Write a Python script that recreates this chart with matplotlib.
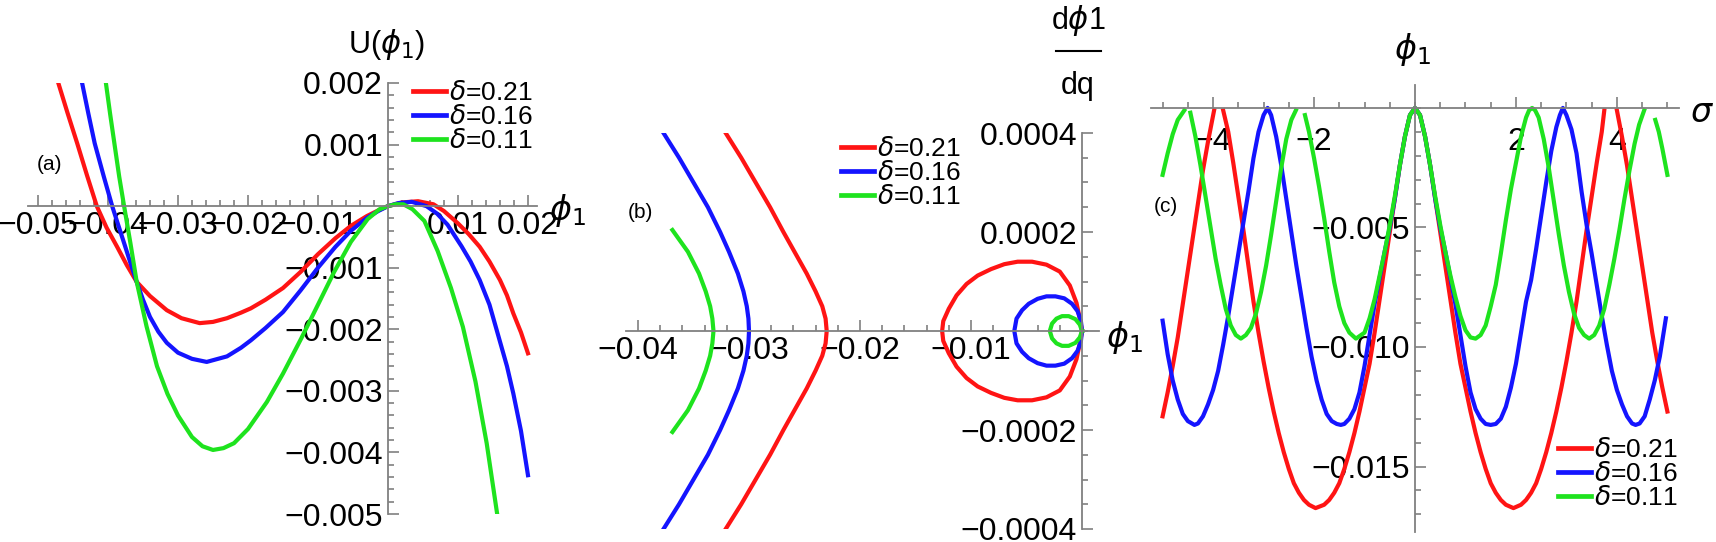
import numpy as np
import matplotlib
matplotlib.use('Agg')
import matplotlib.pyplot as plt
from matplotlib.lines import Line2D

plt.rcParams['font.family'] = ['Liberation Sans Narrow', 'Liberation Sans', 'DejaVu Sans']

gap = np.nan
DELTAS = ['0.21', '0.16', '0.11']
COLORS = ['#ff1414', '#1414ff', '#1ee31e']

# ---- panel (a): U(phi1) ----
a_red_x = [-0.0471, -0.0458, -0.0444, -0.0430, -0.0416, -0.0402, -0.0387, -0.0373,
           -0.0359, -0.0340, -0.0316, -0.0295, -0.0269, -0.0250, -0.0230, -0.0210,
           -0.0196, -0.0175, -0.0150, -0.0125, -0.0100, -0.0075, -0.0053, -0.0030,
           -0.0014, 0.0, 0.0020, 0.0043, 0.0065, 0.0080, 0.0100, 0.0115, 0.0131,
           0.0145, 0.0160, 0.0170, 0.0179, 0.0190, 0.0200]
a_red_y = [0.0020, 0.00152, 0.00102, 0.00050, 0.0, -0.00035, -0.00066, -0.00096,
           -0.00123, -0.00146, -0.00169, -0.00182, -0.00190, -0.00188, -0.00182, -0.00173,
           -0.00166, -0.00152, -0.00133, -0.00107, -0.00078, -0.00052, -0.00032, -0.00016,
           -0.00007, 0.0, 0.00006, 0.00008, 0.00003, -0.00008, -0.00028, -0.00045, -0.00066,
           -0.00090, -0.00120, -0.00145, -0.00174, -0.00205, -0.00239]
a_blue_x = [-0.0437, -0.0428, -0.0419, -0.0406, -0.0394, -0.0385, -0.0377, -0.0368,
            -0.0359, -0.0350, -0.0340, -0.0328, -0.0316, -0.0300, -0.0280, -0.0259,
            -0.0230, -0.0210, -0.0196, -0.0175, -0.0150, -0.0125, -0.0100, -0.0075,
            -0.0053, -0.0030, -0.0014, 0.0, 0.0015, 0.0034, 0.0055, 0.0070, 0.0085,
            0.0105, 0.0118, 0.0131, 0.0145, 0.0160, 0.0170, 0.0179, 0.0190, 0.0200]
a_blue_y = [0.0020, 0.00150, 0.00102, 0.00048, 0.0, -0.00032, -0.00060, -0.00092,
            -0.00123, -0.00152, -0.00180, -0.00204, -0.00222, -0.00238, -0.00248, -0.00253,
            -0.00244, -0.00230, -0.00218, -0.00198, -0.00172, -0.00137, -0.00100, -0.00066,
            -0.00040, -0.00019, -0.00008, 0.0, 0.00005, 0.00007, 0.0, -0.00012, -0.00030,
            -0.00065, -0.00090, -0.00120, -0.00160, -0.00220, -0.00260, -0.00304, -0.00365,
            -0.00437]
a_green_x = [-0.0403, -0.0397, -0.0390, -0.0384, -0.0377, -0.0368, -0.0359, -0.0345,
             -0.0330, -0.0315, -0.0300, -0.0280, -0.0265, -0.0250, -0.0235, -0.0220,
             -0.0200, -0.0173, -0.0150, -0.0124, -0.0100, -0.0077, -0.0053, -0.0029,
             -0.0012, 0.0, 0.0011, 0.0022, 0.0035, 0.0052, 0.0071, 0.0090, 0.0107,
             0.0125, 0.0141, 0.0156]
a_green_y = [0.0020, 0.00150, 0.00095, 0.00048, 0.0, -0.00060, -0.00123, -0.00195,
             -0.00260, -0.00305, -0.00340, -0.00375, -0.00390, -0.00396, -0.00393, -0.00385,
             -0.00362, -0.00318, -0.00272, -0.00215, -0.00160, -0.00107, -0.00058, -0.00021,
             -0.00005, 0.0, 0.00003, 0.00003, -0.00005, -0.00024, -0.00073, -0.00133,
             -0.00196, -0.00285, -0.00385, -0.00500]

# ---- panel (b): phase portrait, upper halves (the lower half is dphi1/dq < 0) ----
b_red_open_x = [-0.0321, -0.0307, -0.0294, -0.0281, -0.0269, -0.0259, -0.0248, -0.0240,
                -0.0234, -0.0231, -0.0230]
b_red_open_y = [0.00040, 0.00035, 0.00030, 0.00025, 0.00020, 0.00016, 0.000116, 0.00008,
                0.00005, 0.000025, 0.0]
b_blue_open_x = [-0.0377, -0.0363, -0.0350, -0.0337, -0.0326, -0.0318, -0.0310, -0.0305,
                 -0.0302, -0.03005, -0.0300]
b_blue_open_y = [0.00040, 0.00035, 0.00030, 0.00025, 0.00020, 0.00016, 0.000116, 0.00008,
                 0.00005, 0.000025, 0.0]
b_green_open_x = [-0.0369, -0.0355, -0.0345, -0.0339, -0.0335, -0.0333, -0.0332]
b_green_open_y = [0.000204, 0.00016, 0.000116, 0.00008, 0.00005, 0.000025, 0.0]

b_red_loop_x = [0.0, -0.00015, -0.0005, -0.0011, -0.0020, -0.0032, -0.0045, -0.0058,
                -0.0070, -0.0082, -0.0094, -0.0104, -0.0113, -0.0120, -0.0125, -0.0126]
b_red_loop_y = [0.0, 0.00002, 0.000057, 0.000092, 0.00012, 0.000134, 0.00014, 0.00014,
                0.000135, 0.000125, 0.000112, 0.000095, 0.000072, 0.000045, 0.00002, 0.0]
b_blue_loop_x = [0.0, -0.0001, -0.0004, -0.0009, -0.0016, -0.0024, -0.0032, -0.0040,
                 -0.0048, -0.0054, -0.0059, -0.0061]
b_blue_loop_y = [0.0, 0.00002, 0.00004, 0.000055, 0.000066, 0.00007, 0.00007, 0.000065,
                 0.000055, 0.000042, 0.000025, 0.0]
b_green_loop_x = [0.0, -0.0002, -0.0006, -0.0012, -0.0018, -0.0023, -0.0027, -0.0029]
b_green_loop_y = [0.0, 0.000013, 0.000024, 0.00003, 0.00003, 0.000025, 0.000015, 0.0]

# ---- panel (c): phi1(sigma) ----
c_red_x = [-5.0, -4.9, -4.8, -4.7, -4.6, -4.5, -4.4, -4.3, -4.2, -4.1, -3.98, gap,
           -3.80, -3.7, -3.6, -3.5, -3.4, -3.3, -3.2, -3.1, -3.0, -2.9, -2.8, -2.7, -2.6,
           -2.5, -2.4, -2.3, -2.2, -2.1, -1.97, -1.8, -1.7, -1.6, -1.5, -1.4, -1.3, -1.2,
           -1.1, -1.0, -0.9, -0.8, -0.7, -0.6, -0.5, -0.4, -0.3, -0.2, -0.1, 0.0,
           0.1, 0.2, 0.3, 0.4, 0.5, 0.6, 0.7, 0.8, 0.9, 1.0, 1.1, 1.2, 1.3, 1.4, 1.5,
           1.6, 1.7, 1.8, 1.95, 2.1, 2.2, 2.3, 2.4, 2.5, 2.6, 2.7, 2.8, 2.9, 3.0, 3.1,
           3.2, 3.3, 3.4, 3.5, 3.6, 3.7, 3.75, gap, 4.0, 4.1, 4.2, 4.3, 4.4, 4.5, 4.6,
           4.7, 4.8, 4.9, 5.0]
c_red_y = [-0.0129, -0.0119, -0.0108, -0.0096, -0.0082, -0.0068, -0.0054, -0.0040,
           -0.0026, -0.0014, -0.0001, gap,
           -0.0001, -0.0010, -0.0023, -0.0037, -0.0051, -0.0066, -0.0081, -0.0094, -0.0106,
           -0.0117, -0.0127, -0.0136, -0.0144, -0.0151, -0.0157, -0.0161, -0.0164, -0.0166,
           -0.01674, -0.0166, -0.0164, -0.0161, -0.0157, -0.0151, -0.0144, -0.0136, -0.0127,
           -0.0117, -0.0107, -0.0094, -0.0080, -0.0066, -0.0052, -0.0038, -0.0024, -0.0012,
           -0.0003, 0.0,
           -0.0003, -0.0012, -0.0024, -0.0038, -0.0052, -0.0066, -0.0080, -0.0094, -0.0107,
           -0.0117, -0.0127, -0.0136, -0.0144, -0.0151, -0.0157, -0.0161, -0.0164, -0.0166,
           -0.01674, -0.0166, -0.0164, -0.0161, -0.0157, -0.0151, -0.0144, -0.0136, -0.0127,
           -0.0117, -0.0106, -0.0094, -0.0081, -0.0066, -0.0051, -0.0037, -0.0023, -0.0010,
           -0.0001, gap, -0.0001, -0.0012, -0.0024, -0.0038, -0.0052, -0.0066, -0.0080,
           -0.0094, -0.0106, -0.0117, -0.0127]
c_blue_x = [-5.0, -4.9, -4.8, -4.7, -4.6, -4.5, -4.37, -4.3, -4.2, -4.1, -4.0, -3.9,
            -3.8, -3.7, -3.6, -3.5, -3.4, -3.3, -3.2, -3.1, -3.0, -2.92, -2.85, -2.75,
            -2.65, -2.55, -2.45, -2.35, -2.25, -2.15, -2.05, -1.95, -1.85, -1.75, -1.65,
            -1.55, -1.47, -1.4, -1.3, -1.2, -1.1, -1.0, -0.9, -0.8, -0.7, -0.6, -0.5,
            -0.4, -0.3, -0.2, -0.1, 0.0,
            0.1, 0.2, 0.3, 0.4, 0.5, 0.6, 0.7, 0.8, 0.9, 1.0, 1.1, 1.2, 1.3, 1.4, 1.5,
            1.6, 1.7, 1.8, 1.9, 2.0, 2.1, 2.2, 2.3, 2.4, 2.5, 2.6, 2.7, 2.8, 2.87, 2.93,
            3.0, 3.1, 3.2, 3.3, 3.4, 3.5, 3.6, 3.7, 3.8, 3.9, 4.0, 4.1, 4.2, 4.3, 4.37,
            4.45, 4.55, 4.65, 4.75, 4.85, 4.97]
c_blue_y = [-0.0089, -0.0103, -0.0114, -0.0122, -0.0128, -0.0131, -0.01326, -0.0132,
            -0.0129, -0.0124, -0.0118, -0.0110, -0.0099, -0.0087, -0.0074, -0.0061, -0.0048,
            -0.0035, -0.0021, -0.0010, -0.0003, 0.0, -0.0003, -0.0012, -0.0024, -0.0038,
            -0.0052, -0.0066, -0.0079, -0.0092, -0.0104, -0.0114, -0.0122, -0.0128, -0.0131,
            -0.01322, -0.01326, -0.01322, -0.0130, -0.0126, -0.0119, -0.0108, -0.0095,
            -0.0082, -0.0071, -0.0060, -0.0050, -0.0038, -0.0024, -0.0012, -0.0003, 0.0,
            -0.0003, -0.0012, -0.0024, -0.0038, -0.0050, -0.0060, -0.0071, -0.0082, -0.0095,
            -0.0108, -0.0119, -0.0126, -0.0130, -0.01322, -0.01326, -0.01322, -0.0130,
            -0.0125, -0.0117, -0.0107, -0.0094, -0.0081, -0.0072, -0.0059, -0.0045, -0.0031,
            -0.0018, -0.0008, -0.0003, 0.0,
            -0.0003, -0.0009, -0.0019, -0.0035, -0.0049, -0.0061, -0.0074, -0.0087, -0.0099,
            -0.0110, -0.0118, -0.0124, -0.0129, -0.0132, -0.01326, -0.0132, -0.0129, -0.0122,
            -0.0114, -0.0104, -0.0088]
c_green_x = [-5.0, -4.9, -4.8, -4.7, -4.57, gap, -4.45, -4.35, -4.25, -4.15, -4.05,
             -3.95, -3.85, -3.75, -3.65, -3.55, -3.45, -3.35, -3.25, -3.15, -3.05, -2.95,
             -2.85, -2.75, -2.65, -2.55, -2.45, -2.36, gap, -2.18, -2.1, -2.0, -1.9, -1.8,
             -1.7, -1.6, -1.5, -1.4, -1.3, -1.17, -1.0, -0.9, -0.8, -0.7, -0.6, -0.5, -0.4,
             -0.3, -0.2, -0.1, 0.0,
             0.1, 0.2, 0.3, 0.4, 0.5, 0.6, 0.7, 0.8, 0.9, 1.0, 1.1, 1.2, 1.3, 1.4, 1.5,
             1.6, 1.7, 1.8, 1.9, 2.0, 2.1, 2.2, 2.26, 2.32, 2.38, 2.45, 2.55, 2.65, 2.75,
             2.85, 2.95, 3.05, 3.15, 3.25, 3.35, 3.45, 3.55, 3.65, 3.75, 3.85, 3.95, 4.05,
             4.15, 4.25, 4.35, 4.44, 4.54, gap, 4.76, 4.83, 4.90, 5.0]
c_green_y = [-0.0028, -0.0019, -0.0011, -0.0005, -0.0001, gap, -0.0002, -0.0012, -0.0024,
             -0.0037, -0.0050, -0.0063, -0.0074, -0.0084, -0.0091, -0.0095, -0.00965, -0.0095,
             -0.0092, -0.0086, -0.0077, -0.0066, -0.0053, -0.0039, -0.0025, -0.0013, -0.0005,
             -0.0001, gap, -0.0003, -0.0010, -0.0021, -0.0033, -0.0046, -0.0060, -0.0073,
             -0.0083, -0.0090, -0.0094, -0.00965, -0.0094, -0.0088, -0.0080, -0.0070, -0.0060,
             -0.0049, -0.0037, -0.0024, -0.0012, -0.0003, 0.0,
             -0.0003, -0.0012, -0.0024, -0.0037, -0.0049, -0.0060, -0.0070, -0.0079, -0.0087,
             -0.0093, -0.0096, -0.00965, -0.0095, -0.0091, -0.0083, -0.0074, -0.0061, -0.0047,
             -0.0034, -0.0023, -0.0012, -0.0004, -0.0001, 0.0, -0.0001, -0.0004, -0.0013,
             -0.0025, -0.0039, -0.0053, -0.0066, -0.0077, -0.0086, -0.0092, -0.0095, -0.00965,
             -0.0095, -0.0091, -0.0084, -0.0074, -0.0063, -0.0051, -0.0038, -0.0026, -0.0015,
             -0.0007, -0.0001, gap, -0.0005, -0.0010, -0.0017, -0.0028]

W, H = 1716, 542
fig = plt.figure(figsize=(W / 100, H / 100), dpi=100)


def box(l, t, r, b):
    return [l / W, 1 - b / H, (r - l) / W, (b - t) / H]


def ftext(x, y, s, **kw):
    fig.text(x / W, 1 - y / H, s, ha='center', va='center', **kw)


def mathematica_axes(ax, xt, xl, yt, yl, xminor, yminor, fs=23):
    for side in ['top', 'right']:
        ax.spines[side].set_visible(False)
    for side in ['left', 'bottom']:
        ax.spines[side].set_position(('data', 0))
        ax.spines[side].set_color('#808080')
        ax.spines[side].set_linewidth(1.3)
    ax.set_xticks(xt, labels=xl)
    ax.set_yticks(yt, labels=yl)
    ax.set_xticks(xminor, minor=True)
    ax.set_yticks(yminor, minor=True)
    ax.tick_params(which='both', direction='in', color='#808080', width=1.2,
                   labelsize=fs, labelcolor='black')
    ax.tick_params(which='major', length=8)
    ax.tick_params(which='minor', length=4)
    ax.patch.set_visible(False)


def add_legend(ax, x, y, fs):
    handles = [Line2D([], [], color=c, lw=3.4) for c in COLORS]
    labels = [r'$\delta$=' + d for d in DELTAS]
    ax.legend(handles, labels, loc='upper left',
              bbox_to_anchor=(x / W, 1 - y / H), bbox_transform=fig.transFigure,
              frameon=False, fontsize=fs, handlelength=1.25, handletextpad=0.1,
              labelspacing=0.0, borderpad=0, borderaxespad=0)


LW = 3.0

# panel (a)
axA = fig.add_axes(box(28, 83, 537, 514))
for xs, ys, c in zip([a_red_x, a_blue_x, a_green_x], [a_red_y, a_blue_y, a_green_y], COLORS):
    axA.plot(xs, ys, color=c, lw=LW, solid_joinstyle='round')
axA.set_xlim(-0.05143, 0.02129)
axA.set_ylim(-0.0050, 0.0020)
mathematica_axes(axA,
                 [-0.05, -0.04, -0.03, -0.02, -0.01, 0.01, 0.02],
                 ['−0.05', '−0.04', '−0.03', '−0.02', '−0.01', '0.01', '0.02'],
                 [0.002, 0.001, -0.001, -0.002, -0.003, -0.004, -0.005],
                 ['0.002', '0.001', '−0.001', '−0.002', '−0.003', '−0.004', '−0.005'],
                 np.arange(-0.05, 0.0201, 0.002), np.arange(-0.005, 0.00201, 0.0002))
add_legend(axA, 413, 81, 19)
ftext(387, 45, r'U($\phi_1$)', fontsize=22)
ftext(567, 211, r'$\phi_1$', fontsize=24)
ftext(50, 164, '(a)', fontsize=15)

# panel (b)
axB = fig.add_axes(box(626, 133, 1099, 529))
open_x = [b_red_open_x, b_blue_open_x, b_green_open_x]
open_y = [b_red_open_y, b_blue_open_y, b_green_open_y]
loop_x = [b_red_loop_x, b_blue_loop_x, b_green_loop_x]
loop_y = [b_red_loop_y, b_blue_loop_y, b_green_loop_y]
for ox, oy, lx, ly, c in zip(open_x, open_y, loop_x, loop_y, COLORS):
    oy = np.array(oy)
    ly = np.array(ly)
    axB.plot(ox + ox[::-1], np.concatenate([oy, -oy[::-1]]), color=c, lw=LW,
             solid_joinstyle='round')
    axB.plot(lx + lx[::-1], np.concatenate([ly, -ly[::-1]]), color=c, lw=LW,
             solid_joinstyle='round')
axB.set_xlim(-0.04108, 0.00153)
axB.set_ylim(-0.0004, 0.0004)
mathematica_axes(axB,
                 [-0.04, -0.03, -0.02, -0.01],
                 ['−0.04', '−0.03', '−0.02', '−0.01'],
                 [0.0004, 0.0002, -0.0002, -0.0004],
                 ['0.0004', '0.0002', '−0.0002', '−0.0004'],
                 np.arange(-0.04, 0.0001, 0.002), np.arange(-0.0004, 0.00041, 0.00005))
add_legend(axB, 841, 137, 19)
ftext(1078, 21, r'd$\phi$1', fontsize=22)
fig.add_artist(Line2D([1056 / W, 1101 / W], [1 - 51 / H, 1 - 51 / H], color='black', lw=1.5))
ftext(1078, 86, 'dq', fontsize=22)
ftext(1124, 337, r'$\phi_1$', fontsize=24)
ftext(640, 213, '(b)', fontsize=15)

# panel (c)
axC = fig.add_axes(box(1151, 85, 1679, 532))
for xs, ys, c in zip([c_red_x, c_blue_x, c_green_x], [c_red_y, c_blue_y, c_green_y], COLORS):
    axC.plot(xs, ys, color=c, lw=LW, solid_joinstyle='round')
axC.set_xlim(-5.23, 5.23)
axC.set_ylim(-0.01774, 0.00096)
mathematica_axes(axC,
                 [-4, -2, 2, 4], ['−4', '−2', '2', '4'],
                 [-0.005, -0.010, -0.015], ['−0.005', '−0.010', '−0.015'],
                 np.arange(-5.0, 5.01, 0.5), np.arange(-0.017, 0.0001, 0.001))
axC.tick_params(axis='x', which='major', pad=14)
add_legend(axC, 1558, 438, 19)
ftext(1412, 50, r'$\phi_1$', fontsize=24)
ftext(1702, 114, r'$\sigma$', fontsize=24)
ftext(1166, 207, '(c)', fontsize=15)

fig.savefig('out.png', dpi=100)
